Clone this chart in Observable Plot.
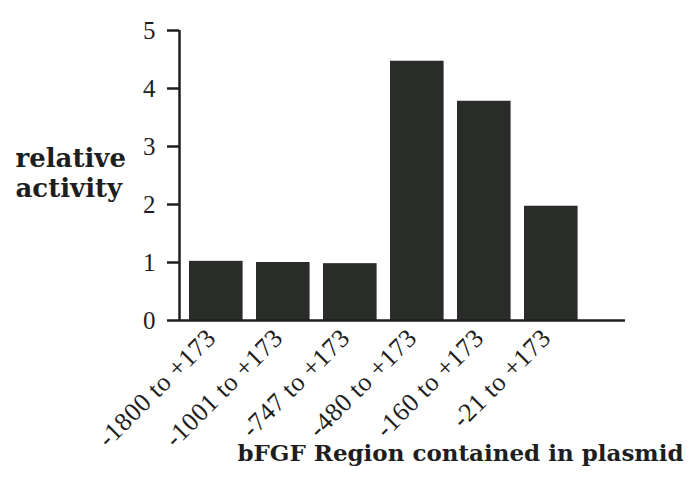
<!DOCTYPE html>
<html><head><meta charset="utf-8">
<script src="https://cdn.jsdelivr.net/npm/d3@7"></script>
<script src="https://cdn.jsdelivr.net/npm/@observablehq/plot@0.6"></script>
<style>body{margin:0;background:#fff} #chart svg{display:block}</style>
</head><body><div id="chart"></div>
<script>
const regions = ["-1800 to +173", "-1001 to +173", "-747 to +173", "-480 to +173", "-160 to +173", "-21 to +173"];
const activity = [1.02, 1.0, 0.98, 4.47, 3.78, 1.97];
const yTicks = [0, 1, 2, 3, 4, 5];
const yLabel = ["relative\nactivity"];
const xTitle = ["bFGF Region contained in plasmid"];

const data = regions.map((r, i) => ({region: r, activity: activity[i]}));
const ink = "#1e1e1e";
const barFill = "#2a2c2a";

const plot = Plot.plot({
  width: 691, height: 483,
  marginLeft: 179, marginRight: 66, marginTop: 30, marginBottom: 163,
  style: {fontFamily: "'Liberation Serif', serif", fontSize: "25px", color: ink, background: "#fff"},
  x: {type: "band", domain: regions, range: [182.3, 584.3], paddingInner: 0.2, paddingOuter: 0.1, round: false, axis: null},
  y: {domain: [0, 5]},
  marks: [
    Plot.barY(data, {x: "region", y: "activity", fill: barFill}),
    Plot.axisY(yTicks, {tickSize: 12, tickPadding: 12, strokeWidth: 2.5, stroke: ink, label: null, tickFormat: d => d, fontSize: 25}),
    Plot.ruleX([regions[0]], {x: d => d, y1: 0, y2: 5, dx: -36.8, stroke: ink, strokeWidth: 2.5}),
    Plot.ruleY([0], {stroke: ink, strokeWidth: 2.5}),
    Plot.text(data, {x: "region", frameAnchor: "bottom", text: "region", rotate: -45, textAnchor: "end", dx: 1, dy: 19, fontSize: 26}),
    Plot.text(yLabel, {frameAnchor: "left", text: d => d, textAnchor: "start", dx: -164, dy: -3, fontFamily: "DejaVu Serif", fontWeight: "bold", fontSize: 26, lineHeight: 1.15}),
    Plot.text(xTitle, {frameAnchor: "bottom-right", text: d => d, textAnchor: "end", dx: 58, dy: 140, fontFamily: "DejaVu Serif", fontWeight: "bold", fontSize: 23})
  ]
});
document.getElementById("chart").appendChild(plot);
d3.select(plot).selectAll("text").filter(function(){ return this.textContent.includes(" to +"); }).style("letter-spacing", "0.5px");
</script>
</body></html>
